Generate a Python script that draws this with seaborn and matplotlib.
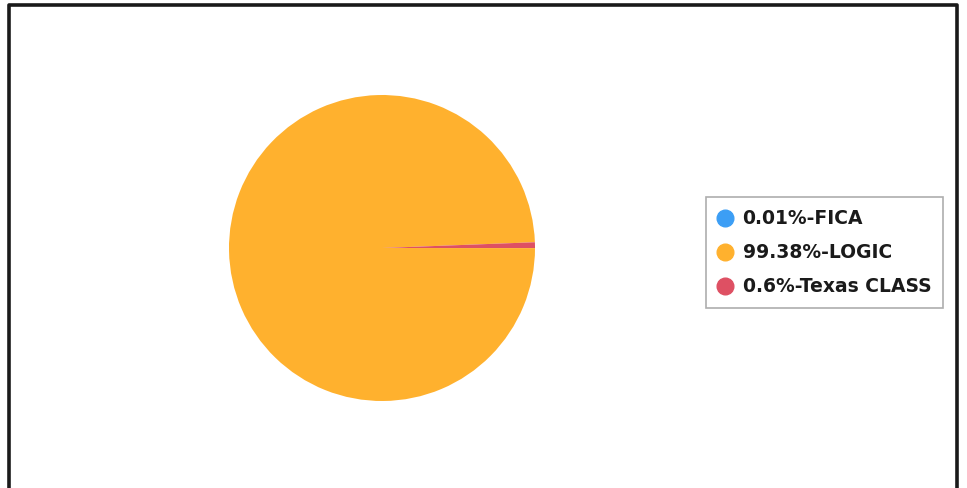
import matplotlib
matplotlib.use('Agg')
import matplotlib.pyplot as plt
from matplotlib.lines import Line2D
import seaborn as sns

sns.set_style('white')
plt.rcParams['font.family'] = ['DejaVu Sans']

# data
labels = ['0.01%-FICA', '99.38%-LOGIC', '0.6%-Texas CLASS']
shares = [0.01, 99.38, 0.6]
colors = ['#3C9EF5', '#FFB12E', '#DE5063']

fig = plt.figure(figsize=(9.67, 4.88), dpi=100)
fig.patch.set_facecolor('white')

# outer frame (open at the bottom, as in the scan)
W, H = 967, 488
frame_x = [9 / W, 9 / W, 957 / W, 957 / W]
frame_y = [0, 1 - 5 / H, 1 - 5 / H, 0]
fig.add_artist(Line2D(frame_x, frame_y, color='#1a1a1a', lw=2.6,
                      transform=fig.transFigure))

# pie, starting at 3 o'clock and running clockwise
ax = fig.add_axes([229 / W, 87 / H, 306 / W, 306 / H])
ax.pie(shares, colors=colors, startangle=0, counterclock=False,
       wedgeprops=dict(linewidth=0))
ax.set_xlim(-1, 1)
ax.set_ylim(-1, 1)
ax.set_aspect('equal')
ax.axis('off')

handles = [Line2D([0], [0], marker='o', color='w', markerfacecolor=c,
                  markeredgecolor=c, markersize=12) for c in colors]
leg = fig.legend(handles, labels, loc='upper left',
                 bbox_to_anchor=(706 / W, 1 - 197 / H),
                 frameon=True, fancybox=False,
                 prop=dict(size=13.5, weight='bold'),
                 handlelength=0.7, handletextpad=0.6, labelspacing=0.8,
                 borderpad=0.65, borderaxespad=0)
leg.get_frame().set_edgecolor('#9a9a9a')
leg.get_frame().set_linewidth(1.2)
for t in leg.get_texts():
    t.set_color('#1a1a1a')

fig.savefig('out.png', dpi=100)
